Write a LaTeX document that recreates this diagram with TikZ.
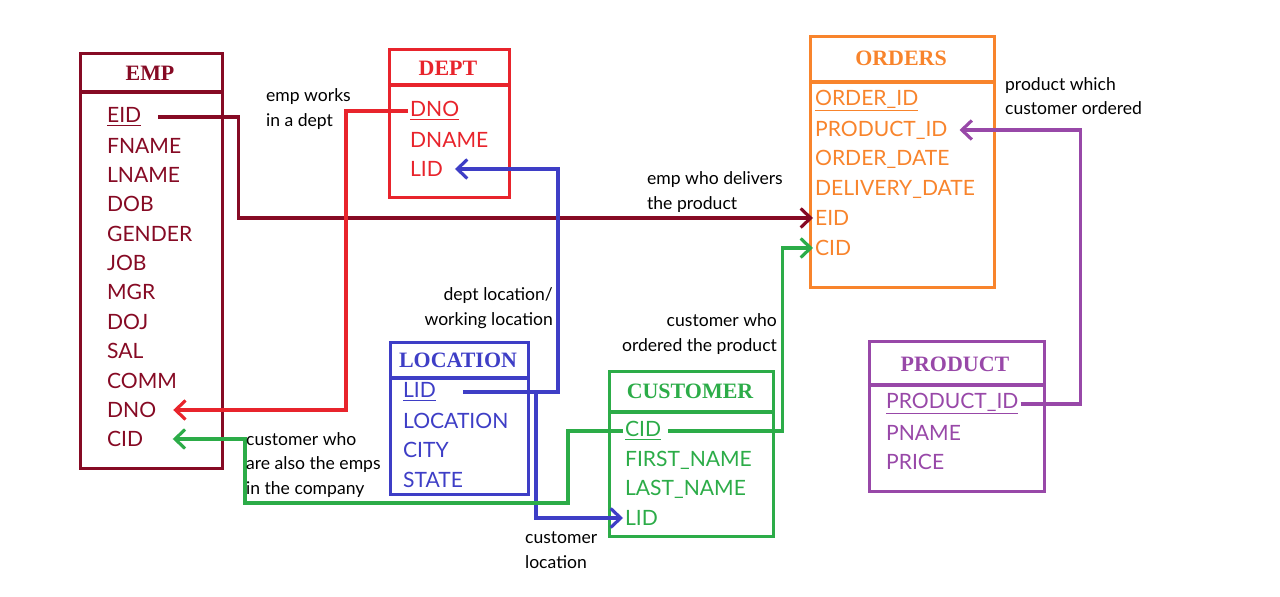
\documentclass[tikz,border=0pt]{standalone}
\usepackage{fontspec}
\setmainfont{Lato}
\newfontfamily\headfont{Liberation Serif}
\usetikzlibrary{arrows.meta,positioning}
\definecolor{empC}  {RGB}{134, 10, 36}
\definecolor{deptC} {RGB}{232, 36, 44}
\definecolor{ordC}  {RGB}{248,132, 44}
\definecolor{locC}  {RGB}{ 62, 62,198}
\definecolor{custC} {RGB}{ 44,172, 72}
\definecolor{prodC} {RGB}{152, 72,168}
\begin{document}
\begin{tikzpicture}[x=0.02cm,y=-0.02cm,
  >={Straight Barb[length=2mm,width=3.8mm]},
  every node/.style={inner sep=1pt},
  tbl/.style={draw=#1,line width=1.8pt,anchor=north west,inner sep=0pt},
  ttl/.style={font=\headfont\bfseries\fontsize{12.5}{14}\selectfont,text=#1},
  fld/.style={anchor=west,font=\fontsize{12}{14}\selectfont,text=#1},
  note/.style={font=\fontsize{10}{14}\selectfont,align=left},
  link/.style={draw=#1,line width=1.8pt}
]
\useasboundingbox (0,0) rectangle (1280,597);

% EMP
\node[tbl=empC,minimum width=2.84cm,minimum height=8.30cm] (emp) at (79,52) {};
\draw[empC,line width=1.8pt] (emp.north west) ++(0,40) -- ++(142,0);
\node[ttl=empC] (empT) at (150,73) {EMP};
\node[fld=empC] (empEID)  at (105,117) {\underline{EID}};
\node[fld=empC] (empFN)   at (105,146) {FNAME};
\node[fld=empC] (empLN)   at (105,175) {LNAME};
\node[fld=empC] (empDOB)  at (105,204) {DOB};
\node[fld=empC] (empGEN)  at (105,234) {GENDER};
\node[fld=empC] (empJOB)  at (105,263) {JOB};
\node[fld=empC] (empMGR)  at (105,292) {MGR};
\node[fld=empC] (empDOJ)  at (105,322) {DOJ};
\node[fld=empC] (empSAL)  at (105,351) {SAL};
\node[fld=empC] (empCOMM) at (105,381) {COMM};
\node[fld=empC] (empDNO)  at (105,410) {DNO};
\node[fld=empC] (empCID)  at (105,439) {CID};

% DEPT
\node[tbl=deptC,minimum width=2.40cm,minimum height=2.96cm] (dept) at (388,48) {};
\draw[deptC,line width=1.8pt] (dept.north west) ++(0,37) -- ++(120,0);
\node[ttl=deptC] (deptT) at (448,68) {DEPT};
\node[fld=deptC] (deptDNO) at (408,111) {\underline{DNO}};
\node[fld=deptC] (deptDN)  at (408,140) {DNAME};
\node[fld=deptC] (deptLID) at (408,169) {LID};

% ORDERS
\node[tbl=ordC,minimum width=3.68cm,minimum height=5.02cm] (ord) at (809,35) {};
\draw[ordC,line width=1.8pt] (ord.north west) ++(0,47) -- ++(184,0);
\node[ttl=ordC] (ordT) at (901,58) {ORDERS};
\node[fld=ordC] (ordOID) at (813,101) {\underline{ORDER\_ID}};
\node[fld=ordC] (ordPID) at (813,130) {PRODUCT\_ID};
\node[fld=ordC] (ordOD)  at (813,159) {ORDER\_DATE};
\node[fld=ordC] (ordDD)  at (813,189) {DELIVERY\_DATE};
\node[fld=ordC] (ordEID) at (813,218) {EID};
\node[fld=ordC] (ordCID) at (813,248) {CID};

% LOCATION
\node[tbl=locC,minimum width=2.76cm,minimum height=3.04cm] (loc) at (389,341) {};
\draw[locC,line width=1.8pt] (loc.north west) ++(0,37) -- ++(138,0);
\node[ttl=locC] (locT) at (458,360) {LOCATION};
\node[fld=locC] (locLID) at (401,392) {\underline{LID}};
\node[fld=locC] (locLOC) at (401,421) {LOCATION};
\node[fld=locC] (locCTY) at (401,450) {CITY};
\node[fld=locC] (locST)  at (401,480) {STATE};

% CUSTOMER
\node[tbl=custC,minimum width=3.28cm,minimum height=3.30cm] (cust) at (608,370) {};
\draw[custC,line width=1.8pt] (cust.north west) ++(0,42) -- ++(164,0);
\node[ttl=custC] (custT) at (690,391) {CUSTOMER};
\node[fld=custC] (custCID) at (623,431) {\underline{CID}};
\node[fld=custC] (custFN)  at (623,460) {FIRST\_NAME};
\node[fld=custC] (custLN)  at (623,489) {LAST\_NAME};
\node[fld=custC] (custLID) at (623,518) {LID};

% PRODUCT
\node[tbl=prodC,minimum width=3.50cm,minimum height=3.00cm] (prod) at (868,340) {};
\draw[prodC,line width=1.8pt] (prod.north west) ++(0,45) -- ++(175,0);
\node[ttl=prodC] (prodT) at (955,364) {PRODUCT};
\node[fld=prodC] (prodPID) at (884,404) {\underline{PRODUCT\_ID}};
\node[fld=prodC] (prodPN)  at (884,433) {PNAME};
\node[fld=prodC] (prodPR)  at (884,462) {PRICE};

% links
\draw[link=empC,->] ([xshift=3mm]empEID.east) -- ++(80,0) |- (ordEID.west);
\draw[link=deptC,->] (deptDNO.west) -- ++(-62,0) |- ([xshift=3mm]empDNO.east);
\draw[link=locC,->] ([xshift=5mm]locLID.east) -- ++(73,0) coordinate (lidFork)
  -- ++(22,0) |- ([xshift=2mm]deptLID.east);
\draw[link=locC,->] (lidFork) |- (custLID.west);
\coordinate (cidTurn) at (245,503);
\draw[link=custC,->] (custCID.west) -- ++(-55,0) |- (cidTurn)
  |- ([xshift=5.5mm]empCID.east);
\draw[link=custC,->] ([xshift=1mm]custCID.east) -- ++(114,0) |- (ordCID.west);
\draw[link=prodC,->] (prodPID.east) -- ++(60,0) |- ([xshift=2mm]ordPID.east);

% notes
\node[note,anchor=west] (nWorks) at (264,109) {emp works\\in a dept};
\node[note,anchor=west] (nDeliv) at (645,192) {emp who delivers\\the product};
\node[note,anchor=west] (nProd)  at (1003,96) {product which\\customer ordered};
\node[note,anchor=east,align=right] (nDeptLoc) at (555,308) {dept location/\\working location};
\node[note,anchor=east,align=right] (nCustOrd) at (779,334) {customer who\\ordered the product};
\node[note,anchor=west] (nCustEmp) at (244,465) {customer who\\are also the emps\\in the company};
\node[note,anchor=west] (nCustLoc) at (523,550) {customer\\location};
\end{tikzpicture}
\end{document}
